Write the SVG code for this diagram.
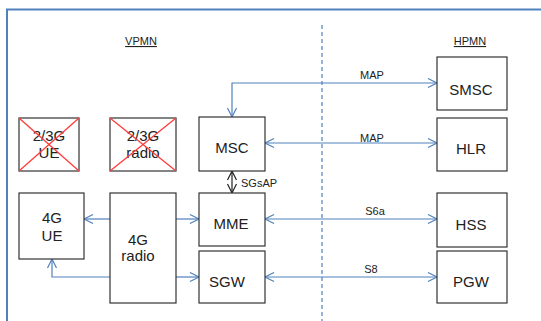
<svg xmlns="http://www.w3.org/2000/svg" width="541" height="321" viewBox="0 0 541 321">
<defs>
<marker id="ab" markerUnits="userSpaceOnUse" markerWidth="12" markerHeight="12" refX="9" refY="4.5" orient="auto-start-reverse" viewBox="-1 -1 12 11">
<path d="M0,0 L9,4.5 L0,9" fill="none" stroke="#4F81BD" stroke-width="1.2"/>
</marker>
<marker id="ak" markerUnits="userSpaceOnUse" markerWidth="12" markerHeight="12" refX="9" refY="4.5" orient="auto-start-reverse" viewBox="-1 -1 12 11">
<path d="M0,0 L9,4.5 L0,9" fill="none" stroke="#222" stroke-width="1.2"/>
</marker>
</defs>
<style>
.box{fill:#fff;stroke:#333;stroke-width:1.2}
.t{font-family:"Liberation Sans",Arial,sans-serif;font-size:15px;fill:#222;text-anchor:middle}
.l{font-family:"Liberation Sans",Arial,sans-serif;font-size:11px;fill:#222;text-anchor:middle}
.c{fill:none;stroke:#4F81BD;stroke-width:1.2}
.x{stroke:#FF3B3B;stroke-width:1.3}
</style>
<rect width="541" height="321" fill="#fff"/>
<g id="frame">
<path d="M7,321 V9.5 H541" fill="none" stroke="#4F81BD" stroke-width="2"/>
<line x1="322" y1="25" x2="322" y2="321" stroke="#4F81BD" stroke-width="1.2" stroke-dasharray="4,3"/>
<text class="l" x="141" y="45" text-decoration="underline">VPMN</text>
<text class="l" x="470" y="45" text-decoration="underline">HPMN</text>
</g>
<g id="connectors">
<path class="c" d="M232,117 V83 H437" marker-start="url(#ab)" marker-end="url(#ab)"/>
<path class="c" d="M265,143 H437" marker-start="url(#ab)" marker-end="url(#ab)"/>
<path class="c" d="M265,219 H437" marker-start="url(#ab)" marker-end="url(#ab)"/>
<path class="c" d="M265,277 H437" marker-start="url(#ab)" marker-end="url(#ab)"/>
<path class="c" d="M110,219 H84" marker-end="url(#ab)"/>
<path class="c" d="M176,219 H199" marker-end="url(#ab)"/>
<path class="c" d="M176,277 H199" marker-end="url(#ab)"/>
<path class="c" d="M110,277 H52 V259" marker-end="url(#ab)"/>
<path d="M232,171 V193" fill="none" stroke="#222" stroke-width="1.2" marker-start="url(#ak)" marker-end="url(#ak)"/>
<text class="l" x="372" y="79">MAP</text>
<text class="l" x="372" y="142">MAP</text>
<text class="l" x="375" y="215">S6a</text>
<text class="l" x="371" y="273">S8</text>
<text class="l" x="241" y="187" text-anchor="start" style="text-anchor:start">SGsAP</text>
</g>
<g id="ue23">
<rect class="box" x="19" y="118" width="60" height="53"/>
<text class="t" x="49" y="141">2/3G</text>
<text class="t" x="49" y="158">UE</text>
<line class="x" x1="19" y1="118" x2="79" y2="171"/>
<line class="x" x1="79" y1="118" x2="19" y2="171"/>
</g>
<g id="radio23">
<rect class="box" x="110" y="118" width="66" height="53"/>
<text class="t" x="143" y="141">2/3G</text>
<text class="t" x="143" y="158">radio</text>
<line class="x" x1="110" y1="118" x2="176" y2="171"/>
<line class="x" x1="176" y1="118" x2="110" y2="171"/>
</g>
<g id="msc">
<rect class="box" x="199" y="117" width="66" height="54"/>
<text class="t" x="232" y="153">MSC</text>
</g>
<g id="mme">
<rect class="box" x="199" y="193" width="66" height="53"/>
<text class="t" x="231" y="229">MME</text>
</g>
<g id="sgw">
<rect class="box" x="199" y="251" width="66" height="52"/>
<text class="t" x="227" y="287">SGW</text>
</g>
<g id="ue4g">
<rect class="box" x="19" y="193" width="65" height="66"/>
<text class="t" x="52" y="223">4G</text>
<text class="t" x="52" y="241">UE</text>
</g>
<g id="radio4g">
<rect class="box" x="110" y="193" width="66" height="110"/>
<text class="t" x="138" y="245">4G</text>
<text class="t" x="138" y="261">radio</text>
</g>
<g id="smsc">
<rect class="box" x="437" y="57" width="70" height="53"/>
<text class="t" x="471" y="95">SMSC</text>
</g>
<g id="hlr">
<rect class="box" x="437" y="118" width="70" height="53"/>
<text class="t" x="471" y="154">HLR</text>
</g>
<g id="hss">
<rect class="box" x="437" y="193" width="70" height="54"/>
<text class="t" x="471" y="230">HSS</text>
</g>
<g id="pgw">
<rect class="box" x="437" y="251" width="70" height="52"/>
<text class="t" x="471" y="287">PGW</text>
</g>
</svg>
